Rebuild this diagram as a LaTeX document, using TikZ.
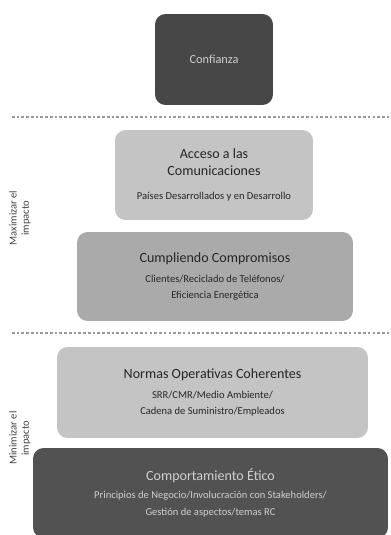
\documentclass[tikz,border=0pt]{standalone}
\usepackage{fontspec}
\setmainfont{Carlito}
\usepackage{tikz}
\usetikzlibrary{positioning}

\definecolor{darkbox}{HTML}{474747}
\definecolor{darkbot}{HTML}{525252}
\definecolor{lightbox}{HTML}{C4C4C4}
\definecolor{midbox}{HTML}{AAAAAA}
\definecolor{paletxt}{HTML}{CFCFCF}

\begin{document}
\begin{tikzpicture}[x=0.02cm, y=-0.02cm,
    box/.style={rounded corners=6pt, align=center, inner sep=3pt, font=\fontsize{8}{9.5}\selectfont},
    dark/.style={box, fill=darkbox, text=paletxt},
    light/.style={box, fill=lightbox, text=black!85},
    mid/.style={box, fill=midbox, text=black!85},
    side/.style={rotate=90, align=center, font=\fontsize{6}{7}\selectfont, text=black!75},
    sep/.style={gray!80, line width=1.6pt, dash pattern=on 1.5pt off 1.2pt}
  ]
    \useasboundingbox (0,0) rectangle (390,535);
    \node[dark, font=\fontsize{7}{8.5}\selectfont, minimum width=2.36cm, minimum height=1.82cm] (conf) at (214,59.5) {Confianza};
    \node[light, minimum width=3.96cm, minimum height=1.8cm] (acceso) at (214,175) {Acceso a las\\Comunicaciones\\[4pt]{\fontsize{6}{7.2}\selectfont Países Desarrollados y en Desarrollo}};
    \node[mid, minimum width=5.52cm, minimum height=1.78cm] (cumpl) at (215,276.5) {Cumpliendo Compromisos\\[2pt]{\fontsize{6}{7.2}\selectfont Clientes/Reciclado de Teléfonos/}\\{\fontsize{6}{7.2}\selectfont Eficiencia Energética}};
    \node[light, minimum width=6.22cm, minimum height=1.82cm] (normas) at (212.5,392.5) {Normas Operativas Coherentes\\[2pt]{\fontsize{6}{7.2}\selectfont SRR/CMR/Medio Ambiente/}\\{\fontsize{6}{7.2}\selectfont Cadena de Suministro/Empleados}};
    \node[dark, fill=darkbot, minimum width=7.1cm, minimum height=1.8cm] (etico) at (210.5,493) {Comportamiento Ético\\[1pt]{\fontsize{6}{7.2}\selectfont Principios de Negocio/Involucración con Stakeholders/}\\{\fontsize{6}{7.2}\selectfont Gestión de aspectos/temas RC}};
    \node[side] (maxi) at (20,218) {Maximizar el\\impacto};
    \node[side] (mini) at (20,438) {Minimizar el\\impacto};
    \coordinate (sepA) at (12,117);
    \coordinate (sepB) at (390,117);
    \coordinate (sepC) at (12,333);
    \coordinate (sepD) at (390,333);
    \draw[sep] (sepA) -- (sepB);
    \draw[sep] (sepC) -- (sepD);
  \end{tikzpicture}
\end{document}
